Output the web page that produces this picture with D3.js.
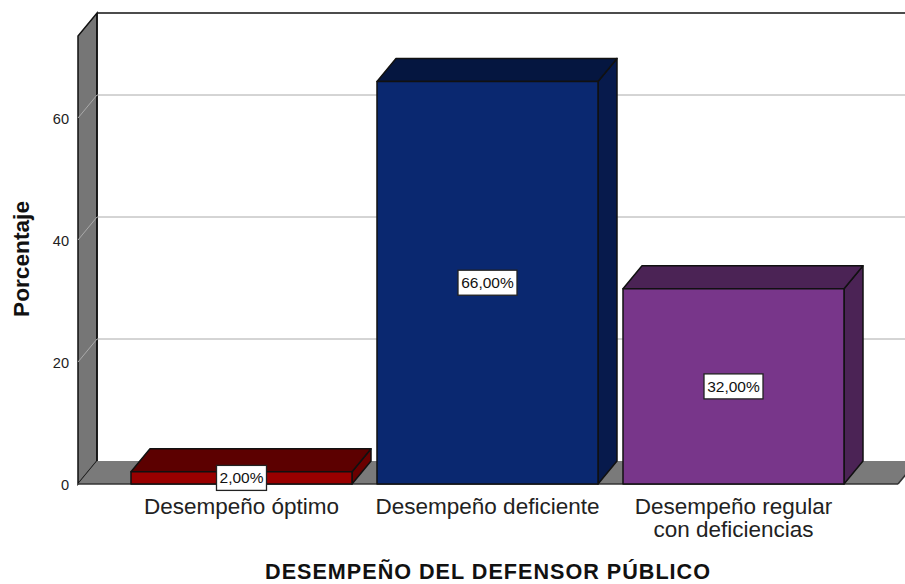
<!DOCTYPE html>
<html><head><meta charset="utf-8">
<script src="https://cdn.jsdelivr.net/npm/d3@7"></script>
<style>html,body{margin:0;padding:0;background:#fff}svg{display:block}text{font-family:"Liberation Sans",Arial,sans-serif;fill:#111}</style>
</head><body><div id="c"></div>
<script>
const categories = ["Desempeño óptimo", "Desempeño deficiente", "Desempeño regular|con deficiencias"];
const values = [2, 66, 32];
const valueLabels = ["2,00%", "66,00%", "32,00%"];
const frontColors = ["#990000", "#0a2870", "#78368a"];
const topColors = ["#5c0000", "#051640", "#4b2355"];
const sideColors = ["#6a0000", "#071a4c", "#4b2355"];
const yTicks = [0, 20, 40, 60];
const yTitle = "Porcentaje";
const xTitle = "DESEMPEÑO DEL DEFENSOR PÚBLICO";

const W = 905, H = 584, dx = 19, dy = 23;
const svg = d3.select("#c").append("svg").attr("width", W).attr("height", H);
const y = d3.scaleLinear().domain([0, 60]).range([484, 118]);
const x = d3.scaleBand().domain(categories).range([131, 844]).paddingInner(25 / 246);
const x0 = 78, xEnd = 898, yMax = 73.44;
const ink = "#111";
const pts = a => a.map(p => p.join(",")).join(" ");

// walls
svg.append("polygon").attr("points", pts([[x0, y(0)], [x0 + dx, y(0) - dy], [x0 + dx, y(yMax) - dy], [x0, y(yMax)]]))
  .attr("fill", "#767676").attr("stroke", ink).attr("stroke-width", 1.5);
svg.append("polygon").attr("points", pts([[x0, y(0)], [x0 + dx, y(0) - dy], [xEnd + dx, y(0) - dy], [xEnd, y(0)]]))
  .attr("fill", "#7a7a7a").attr("stroke", "none");
svg.append("line").attr("x1", x0).attr("x2", xEnd).attr("y1", y(0)).attr("y2", y(0)).attr("stroke", "#333").attr("stroke-width", 1.5);
svg.append("line").attr("x1", xEnd).attr("x2", xEnd + dx).attr("y1", y(0)).attr("y2", y(0) - dy).attr("stroke", "#333").attr("stroke-width", 1.5);
svg.append("line").attr("x1", x0 + dx).attr("x2", W).attr("y1", y(yMax) - dy).attr("y2", y(yMax) - dy).attr("stroke", ink).attr("stroke-width", 1.5);
svg.append("line").attr("x1", x0 + dx).attr("x2", x0 + dx).attr("y1", y(yMax) - dy).attr("y2", y(0) - dy).attr("stroke", ink).attr("stroke-width", 1.5);

// gridlines
yTicks.filter(t => t > 0).forEach(t => {
  svg.append("polyline").attr("points", pts([[x0, y(t)], [x0 + dx, y(t) - dy], [W, y(t) - dy]]))
    .attr("fill", "none").attr("stroke", "#aaaaaa").attr("stroke-width", 1);
});

// y axis
const yAxis = svg.append("g").attr("transform", `translate(${x0},1)`)
  .call(d3.axisLeft(y).tickValues(yTicks).tickSize(0).tickPadding(9));
yAxis.select(".domain").remove();
yAxis.selectAll("text").style("font-size", "14.6px").style("font-family", '"Liberation Sans"').style("fill", "#222");

// bars
const bars = svg.selectAll("g.bar").data(categories).join("g").attr("class", "bar");
bars.each(function (c, i) {
  const g = d3.select(this), l = x(c), r = l + x.bandwidth(), t = y(values[i]), b = y(0);
  const add = (p, f) => g.append("polygon").attr("points", pts(p)).attr("fill", f)
    .attr("stroke", ink).attr("stroke-width", 1.5).attr("stroke-linejoin", "round");
  add([[r, t], [r + dx, t - dy], [r + dx, b - dy], [r, b]], sideColors[i]);
  add([[l, t], [l + dx, t - dy], [r + dx, t - dy], [r, t]], topColors[i]);
  add([[l, t], [r, t], [r, b], [l, b]], frontColors[i]);
});

// value labels
bars.each(function (c, i) {
  const g = d3.select(this), cx = x(c) + x.bandwidth() / 2, cy = y(values[i] / 2);
  const w = valueLabels[i].length === 5 ? 50 : 59, h = 25;
  g.append("rect").attr("x", cx - w / 2).attr("y", cy - h / 2).attr("width", w).attr("height", h)
    .attr("fill", "#fff").attr("stroke", "#222").attr("stroke-width", 1.3);
  g.append("text").attr("x", cx).attr("y", cy).attr("dy", "0.36em").attr("text-anchor", "middle")
    .style("font-size", "15.5px").text(valueLabels[i]);
});

// category labels
bars.each(function (c, i) {
  const cx = x(c) + x.bandwidth() / 2;
  const t = d3.select(this).append("text").attr("text-anchor", "middle").style("font-size", "22.5px").style("fill", "#222");
  c.split("|").forEach((s, k) => t.append("tspan").attr("x", cx).attr("y", 514 + k * 23).text(s));
});

svg.append("text").attr("x", 488).attr("y", 579.3).attr("text-anchor", "middle")
  .style("font-size", "21.6px").style("letter-spacing", "1px").style("font-weight", "bold").text(xTitle);
svg.append("text").attr("transform", "translate(29,259) rotate(-90)").attr("text-anchor", "middle")
  .style("font-size", "22.7px").style("font-weight", "bold").text(yTitle);
</script></body></html>
